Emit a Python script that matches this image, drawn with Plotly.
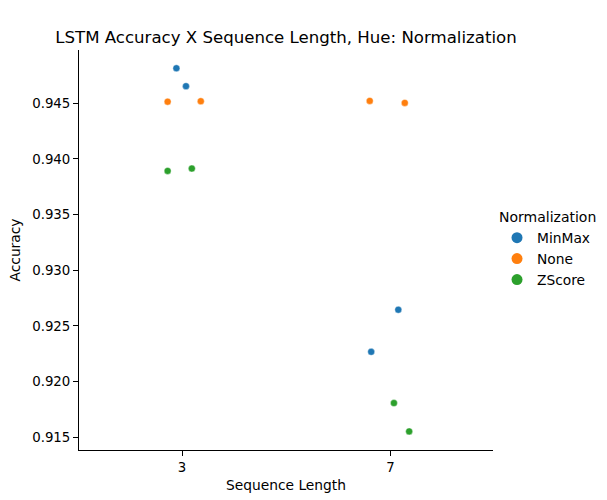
import plotly.graph_objects as go

seq_lengths = ["3", "7"]
hues = ["MinMax", "None", "ZScore"]
colors = {"MinMax": "#1f77b4", "None": "#ff7f0e", "ZScore": "#2ca02c"}

# accuracy values per normalization, per sequence length (two runs each)
acc = {
    "MinMax": {"3": [0.94814, 0.94653], "7": [0.92645, 0.92267]},
    "None":   {"3": [0.94514, 0.94518], "7": [0.94521, 0.94503]},
    "ZScore": {"3": [0.93892, 0.93913], "7": [0.91807, 0.91552]},
}
# strip-plot jitter (category units)
jitter = {
    "MinMax": {"3": [-0.027, 0.019], "7": [0.037, -0.093]},
    "None":   {"3": [-0.069, 0.090], "7": [-0.100, 0.068]},
    "ZScore": {"3": [-0.069, 0.047], "7": [0.016, 0.089]},
}
y_ticks = [0.915, 0.920, 0.925, 0.930, 0.935, 0.940, 0.945]

fig = go.Figure()
for h in hues:
    xs, ys = [], []
    for i, s in enumerate(seq_lengths):
        for v, j in zip(acc[h][s], jitter[h][s]):
            xs.append(i + j)
            ys.append(v)
    fig.add_trace(go.Scatter(
        x=xs, y=ys, mode="markers", showlegend=False, name=h,
        marker=dict(color=colors[h], size=7, line=dict(width=0.4, color="white")),
    ))
    fig.add_trace(go.Scatter(
        x=[None], y=[None], mode="markers", name=h, showlegend=True,
        marker=dict(color=colors[h], size=11),
    ))

font_family = "DejaVu Sans"
fig.update_layout(
    width=607, height=500,
    margin=dict(l=79, r=114, t=50, b=50, autoexpand=False),
    paper_bgcolor="white", plot_bgcolor="white",
    font=dict(family=font_family, size=13.33, color="black"),
    title=dict(text="LSTM Accuracy X Sequence Length, Hue: Normalization",
               x=(79 + 414 / 2) / 607, xanchor="center", y=1 - 37 / 500, yanchor="middle",
               font=dict(size=16.6, color="black"), automargin=False),
    legend=dict(title=dict(text="Normalization", font=dict(size=14)),
                x=1.0097, xanchor="left", y=0.5, yanchor="middle",
                font=dict(size=13.8), bgcolor="rgba(0,0,0,0)",
                tracegroupgap=0, itemsizing="trace"),
    xaxis=dict(
        range=[-0.494, 1.491], tickmode="array", tickvals=[0, 1], ticktext=seq_lengths,
        showgrid=False, zeroline=False, showline=True, linecolor="black", linewidth=1,
        ticks="outside", ticklen=5, tickwidth=1, tickcolor="black", automargin=True,
        title=dict(text="Sequence Length", font=dict(size=13.8), standoff=6),
        tickfont=dict(size=13.33),
    ),
    yaxis=dict(
        range=[0.91385, 0.94978], tickmode="array", tickvals=y_ticks,
        ticktext=[f"{t:.3f}" for t in y_ticks],
        showgrid=False, zeroline=False, showline=True, linecolor="black", linewidth=1,
        ticks="outside", ticklen=5, tickwidth=1, tickcolor="black", automargin=True,
        title=dict(text="Accuracy", font=dict(size=13.8), standoff=8),
        tickfont=dict(size=13.33),
    ),
)

fig.write_html("out.html", config={"displayModeBar": False},
               post_script="document.body.style.margin='0';")
